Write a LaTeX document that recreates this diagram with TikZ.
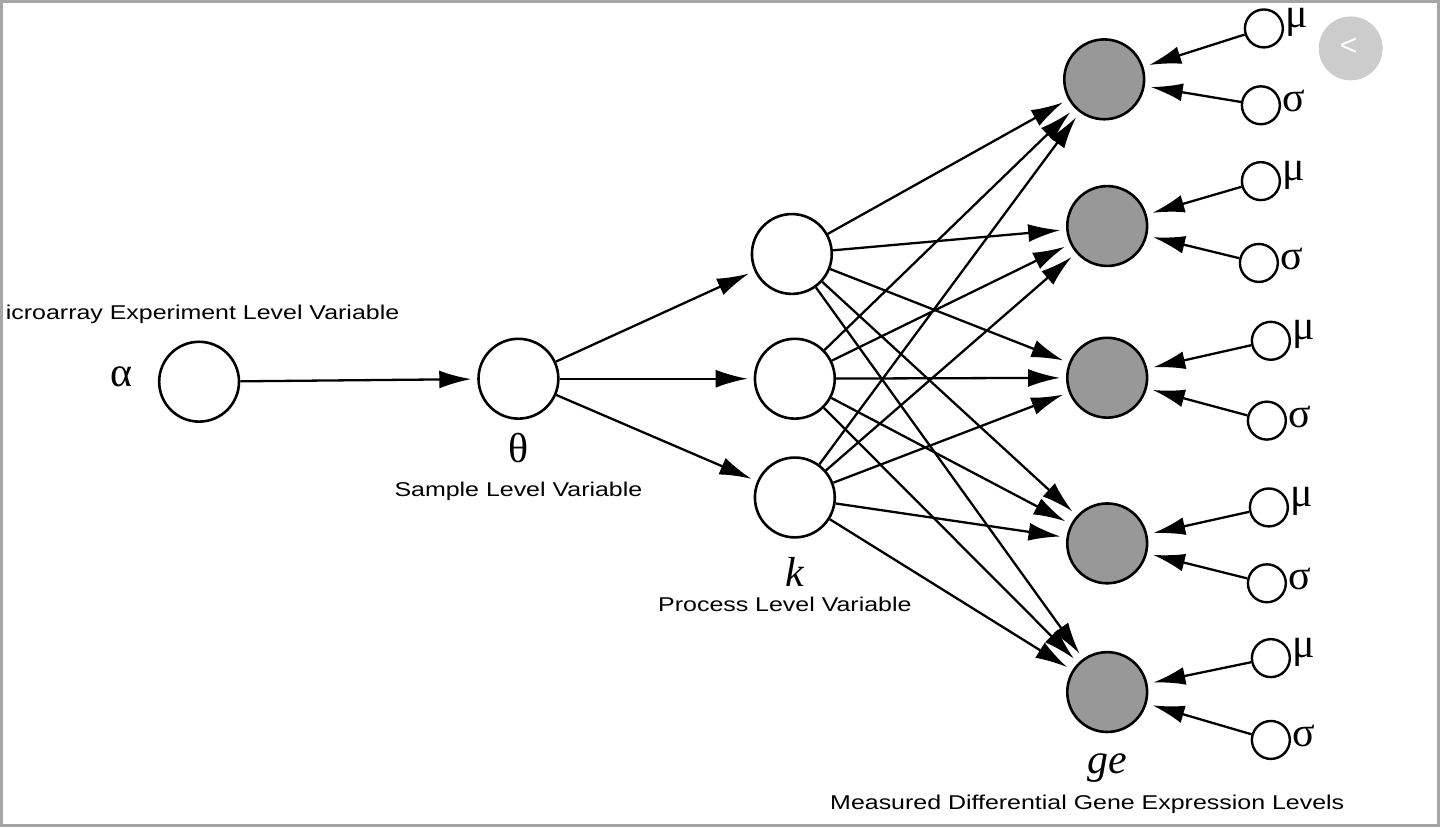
\documentclass[tikz,border=0pt]{standalone}
\usepackage{fontspec}
\setsansfont{Liberation Sans}
\newfontfamily\grk{Liberation Serif}
\usetikzlibrary{arrows.meta}
\begin{document}
\begin{tikzpicture}[x=1pt,y=-1pt,
  big/.style={circle,draw,line width=2.6pt,minimum size=80pt,inner sep=0pt},
  gen/.style={big,fill=gray!85!black!70},
  sm/.style={circle,draw,line width=2.4pt,minimum size=38pt,inner sep=0pt},
  arr/.style={line width=2.3pt,-{Latex[length=32pt,width=18pt]},shorten >=6pt},
  lab/.style={font=\sffamily\fontsize{20}{22}\selectfont,xscale=1.25},
  gr/.style={font=\grk\fontsize{42}{44}\selectfont}]
\fill[white] (0,0) rectangle (1440,826);
\draw[gray!70,line width=3pt] (0,0) rectangle (1440,826);
\node[big] (a) at (198,381) {};
\node[gr] (al) at (120,376) {α};
\node[lab,anchor=west] (alab) at (0,313) {icroarray Experiment Level Variable};
\node[big] (t) at (518,378) {};
\node[gr] (tl) at (518,447) {θ};
\node[lab] (tlab) at (518,491) {Sample Level Variable};
\node[big] (k1) at (792,253) {};
\node[big] (k2) at (795,378) {};
\node[big] (k3) at (795,497) {};
\node[gr] (kl) at (795,572) {\itshape k};
\node[lab] (klab) at (785,604) {Process Level Variable};
\node[gen] (g1) at (1105,78) {};
\node[gen] (g2) at (1108,225) {};
\node[gen] (g3) at (1108,377) {};
\node[gen] (g4) at (1108,543) {};
\node[gen] (g5) at (1108,692) {};
\node[gr] (gl) at (1108,768) {\itshape ge};
\node[lab] (glab) at (1088,805) {Measured Differential Gene Expression Levels};
\foreach \i/\mx/\my/\sx/\sy in {1/1265/27/1262/104, 2/1262/180/1260/262, 3/1272/340/1268/420, 4/1270/507/1268/583, 5/1272/658/1272/740}{
  \node[sm] (m\i) at (\mx,\my) {};
  \node[sm] (s\i) at (\sx,\sy) {};
  \node[gr,anchor=west] (ml\i) at (\mx+18,\my-6) {μ};
  \node[gr,anchor=west] (sl\i) at (\sx+18,\sy-4) {σ};
  \draw[arr] (m\i) -- (g\i);
  \draw[arr] (s\i) -- (g\i);
}
\draw[arr] (a) -- (t);
\foreach \k in {k1,k2,k3}{
  \draw[arr] (t) -- (\k);
  \foreach \g in {g1,g2,g3,g4,g5}{\draw[arr] (\k) -- (\g);}
}
\node[circle,fill=gray!40,minimum size=64pt] (btn) at (1352,47) {};
\node[font=\sffamily\fontsize{30}{30}\selectfont,text=white] (bt) at (1350,45) {<};
\end{tikzpicture}
\end{document}
